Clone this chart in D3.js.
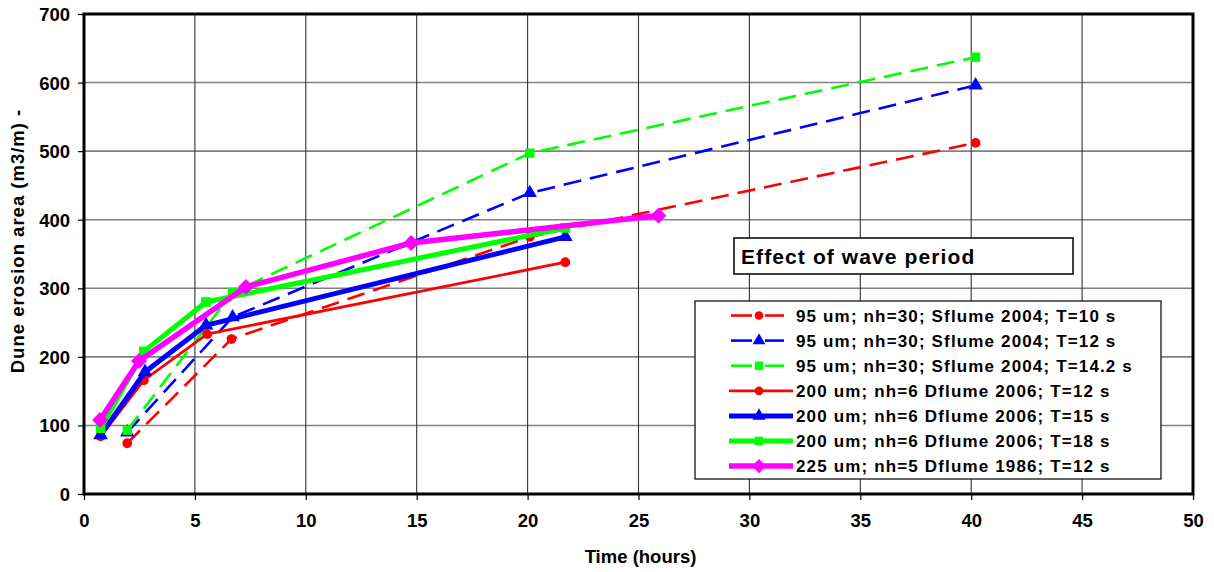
<!DOCTYPE html>
<html>
<head>
<meta charset="utf-8">
<script src="https://cdn.jsdelivr.net/npm/d3@7"></script>
<style>
  html, body { margin: 0; padding: 0; background: #fff; }
  svg { display: block; font-family: "Liberation Sans", Arial, sans-serif; font-weight: bold; }
</style>
</head>
<body>
<svg id="chart" width="1214" height="572"></svg>
<script>
// Dune erosion area versus time for several wave periods
const xTicks = [0, 5, 10, 15, 20, 25, 30, 35, 40, 45, 50];
const yTicks = [0, 100, 200, 300, 400, 500, 600, 700];

const seriesNames = [
  "95 um; nh=30; Sflume 2004; T=10 s",
  "95 um; nh=30; Sflume 2004; T=12 s",
  "95 um; nh=30; Sflume 2004; T=14.2 s",
  "200 um; nh=6 Dflume 2006; T=12 s",
  "200 um; nh=6 Dflume 2006; T=15 s",
  "200 um; nh=6 Dflume 2006; T=18 s",
  "225 um; nh=5 Dflume 1986; T=12 s"
];

// [time (hours), erosion area (m3/m)]
const sflumeT10  = [[1.95, 74], [6.65, 226], [20.1, 375], [40.2, 512]];
const sflumeT12  = [[1.95, 90], [6.7, 258], [20.1, 439], [40.2, 596]];
const sflumeT142 = [[1.95, 93], [6.7, 294], [20.1, 497], [40.2, 637]];
const dflumeT12  = [[0.75, 84], [2.7, 166], [5.55, 233], [21.7, 338]];
const dflumeT15  = [[0.75, 86], [2.75, 178], [5.5, 246], [21.7, 375]];
const dflumeT18  = [[0.75, 96], [2.7, 208], [5.5, 280], [21.7, 388]];
const dflume1986 = [[0.72, 108], [2.48, 194], [7.3, 302], [14.75, 366], [25.9, 406]];

const seriesData = [sflumeT10, sflumeT12, sflumeT142, dflumeT12, dflumeT15, dflumeT18, dflume1986];

const styles = [
  { color: "#ff0000", width: 2.6, dash: "18,9", marker: "circle",   size: 60 },
  { color: "#0000ff", width: 2.6, dash: "18,9", marker: "triangle", size: 70 },
  { color: "#00ff00", width: 2.6, dash: "18,9", marker: "square",   size: 70 },
  { color: "#ff0000", width: 2.8, dash: null,   marker: "circle",   size: 60 },
  { color: "#0000ff", width: 5,   dash: null,   marker: "triangle", size: 75 },
  { color: "#00ff00", width: 5,   dash: null,   marker: "square",   size: 75 },
  { color: "#ff00ff", width: 5.5, dash: null,   marker: "diamond",  size: 100 }
];

// A square turned 45 degrees, as a d3 symbol type
const squareDiamond = {
  draw(ctx, size) {
    const r = Math.sqrt(size / 2);
    ctx.moveTo(0, -r);
    ctx.lineTo(r, 0);
    ctx.lineTo(0, r);
    ctx.lineTo(-r, 0);
    ctx.closePath();
  }
};

const symbolTypes = {
  circle: d3.symbolCircle,
  triangle: d3.symbolTriangle,
  square: d3.symbolSquare,
  diamond: squareDiamond
};

const svg = d3.select("#chart");
const plot = { left: 84, right: 1193, top: 14, bottom: 494 };

const x = d3.scaleLinear().domain([0, 50]).range([plot.left, plot.right]);
const y = d3.scaleLinear().domain([0, 700]).range([plot.bottom, plot.top]);

// Grid lines
const grid = svg.append("g");
grid.selectAll("line.h").data(yTicks.slice(1, -1)).join("line")
  .attr("x1", plot.left).attr("x2", plot.right)
  .attr("y1", d => y(d)).attr("y2", d => y(d))
  .attr("stroke", "#808080").attr("stroke-width", 1.6);
grid.selectAll("line.v").data(xTicks.slice(1, -1)).join("line")
  .attr("y1", plot.top).attr("y2", plot.bottom)
  .attr("x1", d => x(d)).attr("x2", d => x(d))
  .attr("stroke", "#333").attr("stroke-width", 1.1);

// Axes
const yAxis = d3.axisLeft(y).tickValues(yTicks).tickSize(6).tickPadding(8);
const xAxis = d3.axisBottom(x).tickValues(xTicks).tickSize(6).tickPadding(14);

const gy = svg.append("g").attr("transform", `translate(${plot.left},0)`).call(yAxis);
const gx = svg.append("g").attr("transform", `translate(0,${plot.bottom})`).call(xAxis);
[gy, gx].forEach(g => {
  g.select(".domain").remove();
  g.selectAll(".tick line").attr("stroke", "#000").attr("stroke-width", 1.2);
  g.selectAll(".tick text")
    .attr("font-family", "Liberation Sans, Arial, sans-serif")
    .attr("font-weight", "bold").attr("font-size", 18.5).attr("fill", "#000");
});
gy.selectAll(".tick text").attr("dy", "0.35em");

// Plot frame
svg.append("rect")
  .attr("x", plot.left).attr("y", plot.top)
  .attr("width", plot.right - plot.left).attr("height", plot.bottom - plot.top)
  .attr("fill", "none").attr("stroke", "#000").attr("stroke-width", 3);

// Axis titles
svg.append("text")
  .attr("x", (plot.left + plot.right) / 2 + 2).attr("y", 563)
  .attr("text-anchor", "middle").attr("font-size", 18.5)
  .text("Time (hours)");
svg.append("text")
  .attr("transform", "translate(24,241) rotate(-90)")
  .attr("text-anchor", "middle").attr("font-size", 18.5)
  .attr("letter-spacing", 1)
  .text("Dune erosion area (m3/m) -");

// Series lines and markers
const line = d3.line().x(d => x(d[0])).y(d => y(d[1]));
const seriesG = svg.append("g");
seriesData.forEach((data, i) => {
  const s = styles[i];
  const g = seriesG.append("g");
  g.append("path")
    .attr("d", line(data))
    .attr("fill", "none")
    .attr("stroke", s.color)
    .attr("stroke-width", s.width)
    .attr("stroke-dasharray", s.dash)
    .attr("stroke-linejoin", "round");
  g.selectAll("path.m").data(data).join("path")
    .attr("class", "m")
    .attr("transform", d => `translate(${x(d[0])},${y(d[1])})`)
    .attr("d", d3.symbol().type(symbolTypes[s.marker]).size(s.size * 1.25))
    .attr("fill", s.color);
});

// Title box
const titleBox = { x: 734, y: 238, w: 339, h: 36 };
svg.append("rect")
  .attr("x", titleBox.x).attr("y", titleBox.y)
  .attr("width", titleBox.w).attr("height", titleBox.h)
  .attr("fill", "#fff").attr("stroke", "#000").attr("stroke-width", 1.5);
svg.append("text")
  .attr("x", titleBox.x + 7).attr("y", titleBox.y + 25.5)
  .attr("font-size", 21).attr("letter-spacing", 1.1)
  .text("Effect of wave period");

// Legend
const legendBox = { x: 695, y: 301, w: 466, h: 178 };
svg.append("rect")
  .attr("x", legendBox.x).attr("y", legendBox.y)
  .attr("width", legendBox.w).attr("height", legendBox.h)
  .attr("fill", "#fff").attr("stroke", "#000").attr("stroke-width", 1.2);

const rowY = i => 315.5 + i * 25.1;
seriesNames.forEach((name, i) => {
  const s = styles[i];
  const g = svg.append("g");
  const cy = rowY(i);
  if (s.dash) {
    [[731, 752], [765, 784]].forEach(([a, b]) => {
      g.append("line").attr("x1", a).attr("x2", b).attr("y1", cy).attr("y2", cy)
        .attr("stroke", s.color).attr("stroke-width", s.width);
    });
  } else {
    g.append("line").attr("x1", 729).attr("x2", 793).attr("y1", cy).attr("y2", cy)
      .attr("stroke", s.color).attr("stroke-width", s.width);
  }
  g.append("path")
    .attr("transform", `translate(759,${cy})`)
    .attr("d", d3.symbol().type(symbolTypes[s.marker]).size(s.size))
    .attr("fill", s.color);
  g.append("text")
    .attr("x", 796).attr("y", cy).attr("dy", "0.36em")
    .attr("font-size", 17).attr("letter-spacing", 1.15)
    .text(name);
});
</script>
</body>
</html>
